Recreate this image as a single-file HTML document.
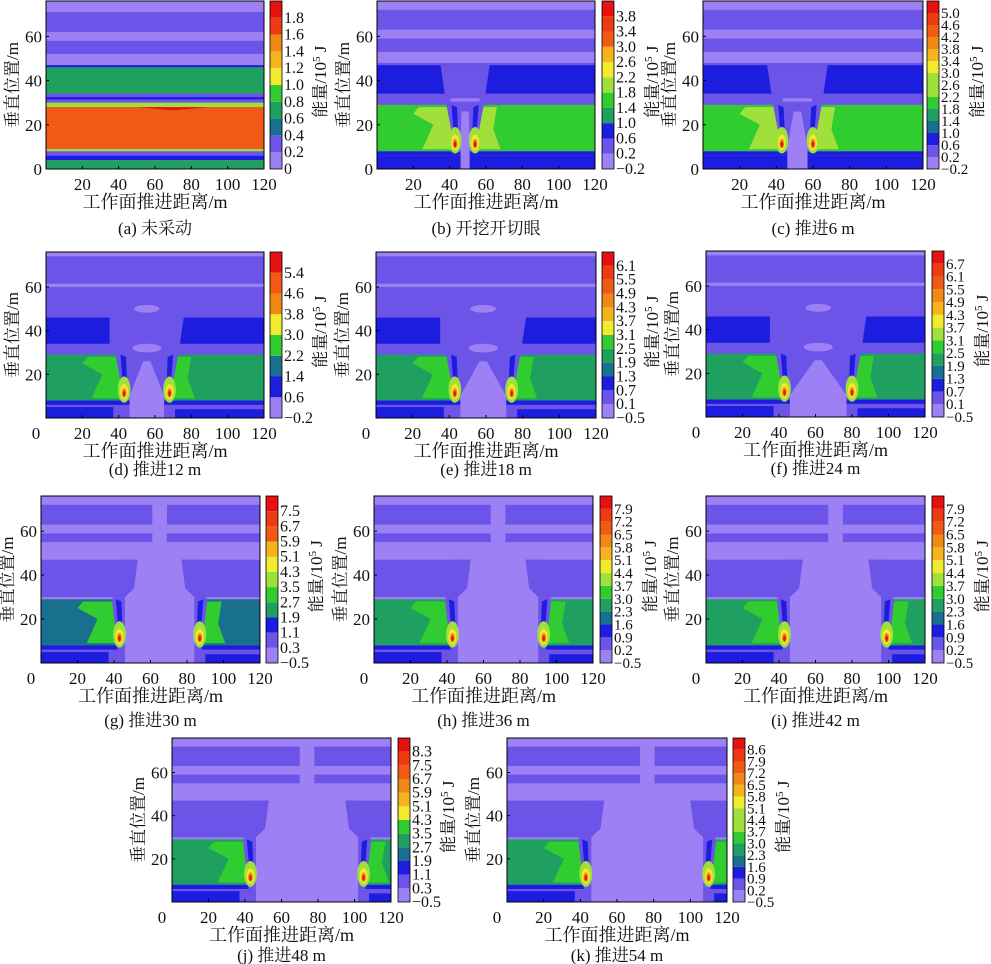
<!DOCTYPE html>
<html><head><meta charset="utf-8">
<style>
html,body{margin:0;padding:0;background:#fff;}
#fig{position:absolute;left:0;top:0;width:991px;height:964px;}
text{font-family:"Liberation Serif","Noto Serif CJK SC","Noto Sans CJK SC",serif;fill:#111;}
</style></head>
<body>
<svg id="fig" width="991" height="964" viewBox="0 0 991 964" xmlns="http://www.w3.org/2000/svg"></svg>
<script>
// ---- data ----
const captions = ["(a)  未采动","(b)  开挖开切眼","(c)  推进6 m","(d)  推进12 m","(e)  推进18 m","(f)  推进24 m","(g)  推进30 m","(h)  推进36 m","(i)  推进42 m","(j)  推进48 m","(k)  推进54 m"];
const cbTicks = [
 ["0","0.2","0.4","0.6","0.8","1.0","1.2","1.4","1.6","1.8"],
 ["−0.2","0.2","0.6","1.0","1.4","1.8","2.2","2.6","3.0","3.4","3.8"],
 ["−0.2","0.2","0.6","1.0","1.4","1.8","2.2","2.6","3.0","3.4","3.8","4.2","4.6","5.0"],
 ["−0.2","0.6","1.4","2.2","3.0","3.8","4.6","5.4"],
 ["−0.5","0.1","0.7","1.3","1.9","2.5","3.1","3.7","4.3","4.9","5.5","6.1"],
 ["−0.5","0.1","0.7","1.3","1.9","2.5","3.1","3.7","4.3","4.9","5.5","6.1","6.7"],
 ["−0.5","0.3","1.1","1.9","2.7","3.5","4.3","5.1","5.9","6.7","7.5"],
 ["−0.5","0.2","0.9","1.6","2.3","3.0","3.7","4.4","5.1","5.8","6.5","7.2","7.9"],
 ["−0.5","0.2","0.9","1.6","2.3","3.0","3.7","4.4","5.1","5.8","6.5","7.2","7.9"],
 ["−0.5","0.3","1.1","1.9","2.7","3.5","4.3","5.1","5.9","6.7","7.5","8.3"],
 ["−0.5","0.2","0.9","1.6","2.3","3.0","3.7","4.4","5.1","5.8","6.5","7.2","7.9","8.6"]
];
const goafLeft  = [null,45,45,45,45,45,45,45,45,45,45];
const goafRight = [null,52,58,66,72,78,85,91,97,103,108];
const modes = ["a","early","early","mid","mid","mid","late","late","late","late","late"];
const xTicks = [0,20,40,60,80,100,120];
const yTicks = [0,20,40,60];

// ---- layout (not data) ----
const boxes = [
 [46,1,264,169,270],[377,1,595,169,602],[703,1,923,169,927],
 [46,252,264,418,270],[376,252,596,418,602],[706,251,925,417,932],
 [41,496,260,663,266],[374,496,593,663,600],[706,496,925,663,932],
 [172,738,391,902,398],[507,738,727,902,733]
];
const C={LP:"#9c80f4",PU:"#6b54e7",BL:"#1d1de0",TE:"#18708e",DG:"#1fa060",GR:"#30cc30",YG:"#a0e03a",YE:"#f2ea2c",GO:"#f5b41e",OR:"#f08818",OO:"#f05a14",RD:"#e61212"};
const palette=[C.LP,C.PU,C.BL,C.TE,C.DG,C.GR,C.YG,C.YE,C.GO,C.OR,C.OO,"#ee3a12",C.RD];
const NS="http://www.w3.org/2000/svg";
const svg=document.getElementById("fig");
function el(tag,attrs,parent){const e=document.createElementNS(NS,tag);for(const k in attrs)e.setAttribute(k,attrs[k]);(parent||svg).appendChild(e);return e;}

captions.forEach((cap,i)=>{
 const [L,T,R,B,CB]=boxes[i];
 const g=el("g",{});
 
 
 const clipId="clip"+i;
 const cp=el("clipPath",{id:clipId},g);el("rect",{x:L,y:T,width:R-L,height:B-T},cp);
 const sx=v=>L+(v/120)*(R-L);
 const sy=v=>B-(v/76)*(B-T);
 const plot=el("g",{"clip-path":"url(#"+clipId+")"},g);
 
 
 const rect=(x0,y0,x1,y1,f)=>el("rect",{x:sx(x0),y:sy(y1),width:sx(x1)-sx(x0),height:sy(y0)-sy(y1),fill:f},plot);
 const poly=(pts,f)=>el("polygon",{points:pts.map(p=>sx(p[0])+","+sy(p[1])).join(" "),fill:f},plot);
 const ell=(x,y,rx,ry,f)=>el("ellipse",{cx:sx(x),cy:sy(y),rx:rx*(R-L)/120,ry:ry*(B-T)/76,fill:f},plot);
 const m=modes[i];
 rect(0,0,120,80,C.LP);
 if(m==="a"){
  rect(0,62,120,71,C.PU);rect(0,52,120,58,C.PU);rect(0,46,120,47,C.BL);
  rect(0,34,120,46,C.DG);rect(0,30,120,34,C.PU);rect(0,31.5,120,32.5,C.BL);
  rect(0,28,120,30,C.YG);rect(0,9,120,28,C.OO);poly([[50,28],[90,28],[70,26.5]],C.RD);
  rect(0,8,120,9,C.YG);rect(0,6,120,8,C.PU);rect(0,4,120,6,C.BL);rect(0,0,120,4,C.DG);
 } else {
  const g0=goafLeft[i],g1=goafRight[i],mid=(g0+g1)/2;
  const seam = m==="early"?C.GR:(i===6?C.TE:C.DG);
  const patch = m==="early"?C.YG:C.GR;
  if(m==="early"){
   rect(0,63,120,72,C.PU);rect(0,53,120,59,C.PU);rect(0,47,120,48,C.PU);
   rect(0,34,120,47,C.BL);rect(0,29,120,34,C.PU);
  } else if(m==="mid"){
   rect(0,0,120,74,C.PU);rect(0,60,120,61.5,C.LP);
   rect(0,34,g0-10,46,C.BL);rect(g1+6,34,120,46,C.BL);
  } else {
   rect(0,63,120,72,C.PU);rect(0,55,120,59,C.PU);
   rect(0,30,120,47,C.PU);rect(0,34,g0-2,46,C.PU);
  }
  rect(0,8,120,29,seam);
  rect(0,6,120,8,C.BL);rect(0,0,120,6,m==="early"?C.BL:C.PU);
  if(m!=="early"){rect(0,0,g0-8,5,C.BL);rect(g1+5,0,120,4,C.BL);}
  poly([[g0-20,9],[g0-14,20],[g0-25,25],[g0-22,28],[g0-3,28],[g0-2,9]],patch);
  poly([[g1+2,9],[g1+3,28],[g1+14,28],[g1+12,18],[g1+16,9]],patch);
  if(m==="late"){
   poly([[g0-3,6],[g0-6,28],[g0-3,47],[g1+3,47],[g1+6,28],[g1+3,6]],C.PU);
   poly([[g0+1,0],[g0+1,30],[mid-(g1-g0)/2+6,34],[mid-(g1-g0)/2+8,47],[mid-4,52],[mid-4,80],[mid+4,80],[mid+4,52],[mid+(g1-g0)/2-8,47],[mid+(g1-g0)/2-6,34],[g1-1,30],[g1-1,0]],C.LP);
  } else {
   poly([[g0-2,8],[g0-7,30],[g0-10,47],[g1+10,47],[g1+7,30],[g1+2,8]],C.PU);
   if(m==="early") rect(mid-8,30.5,mid+8,32,C.LP);
   else {ell(mid,32,8,2,C.LP);ell(mid,50,7,1.8,C.LP);}
   poly([[g0+1,0],[g0+1,10],[mid-2,26],[mid+2,26],[g1-1,10],[g1-1,0]],C.LP);
  }
  poly([[g0-2,8],[g0,8],[g0-1,28],[g0-4,29]],C.BL);
  poly([[g1,8],[g1+2,8],[g1+4,29],[g1+1,28]],C.BL);
  [[g0-2],[g1+2]].forEach(([x])=>{
   ell(x,13,3.5,6,C.YG);ell(x,12,2.2,3.5,C.YE);ell(x,11.5,1.3,2.2,C.OR);ell(x,11.2,0.7,1.3,C.RD);
  });
 }
 const frame=el("rect",{x:L,y:T,width:R-L,height:B-T,fill:"none",stroke:"#000","stroke-width":1},g);
 
 
 const row1=i<3;
 xTicks.forEach(v=>{
  if(row1&&v===0)return;
  const x=v===0?L-10:sx(v);
  el("line",{x1:sx(v),x2:sx(v),y1:B,y2:B-3,stroke:"#000"},g);
  const t=el("text",{x:x,y:B+21,"text-anchor":"middle","font-size":17},g);t.textContent=v;
  
  
 });
 yTicks.forEach(v=>{
  if(!row1&&v===0)return;
  el("line",{x1:L,x2:L+3,y1:sy(v),y2:sy(v),stroke:"#000"},g);
  const t=el("text",{x:L-4,y:sy(v)+6,"text-anchor":"end","font-size":17},g);t.textContent=v;
  
  
 });
 const yl=el("text",{x:0,y:0,"text-anchor":"middle","font-size":17,transform:"translate("+(L-28)+","+((T+B)/2)+") rotate(-90)"},g);
 yl.textContent="垂直位置/m";
 
 
 const xl=el("text",{x:(L+R)/2,y:B+39,"text-anchor":"middle","font-size":18},g);
 xl.textContent="工作面推进距离/m";
 
 
 const capOff = row1?65:(i<6?57:(i<9?63:59));
 const cl=el("text",{x:(L+R)/2,y:B+capOff,"text-anchor":"middle","font-size":17},g);
 cl.textContent=cap;
 
 
 const ticks=cbTicks[i],n=ticks.length,bh=(B-T)/n;
 const cb=el("g",{},g);
 
 
 for(let k=0;k<n;k++){
  const pi=Math.round(k*12/(n-1>0?n-1:1));
  el("rect",{x:CB,y:B-(k+1)*bh,width:12,height:bh,fill:palette[Math.min(12,pi)]},cb);
 }
 el("rect",{x:CB,y:T,width:12,height:B-T,fill:"none",stroke:"#000","stroke-width":0.8},cb);
 const fs=n>12?15:16;
 ticks.forEach((s,k)=>{
  const t=el("text",{x:CB+14,y:B-k*bh+5,"font-size":fs},cb);t.textContent=s;
  
  
 });
 const ct=el("text",{x:0,y:0,"text-anchor":"middle","font-size":17,transform:"translate("+(CB+56)+","+(T+(B-T)*0.48)+") rotate(-90)"},cb);
 ct.innerHTML='能量/10<tspan dy="-6" font-size="11">5</tspan><tspan dy="6"> J</tspan>';
 
 
});
</script>
</body></html>
